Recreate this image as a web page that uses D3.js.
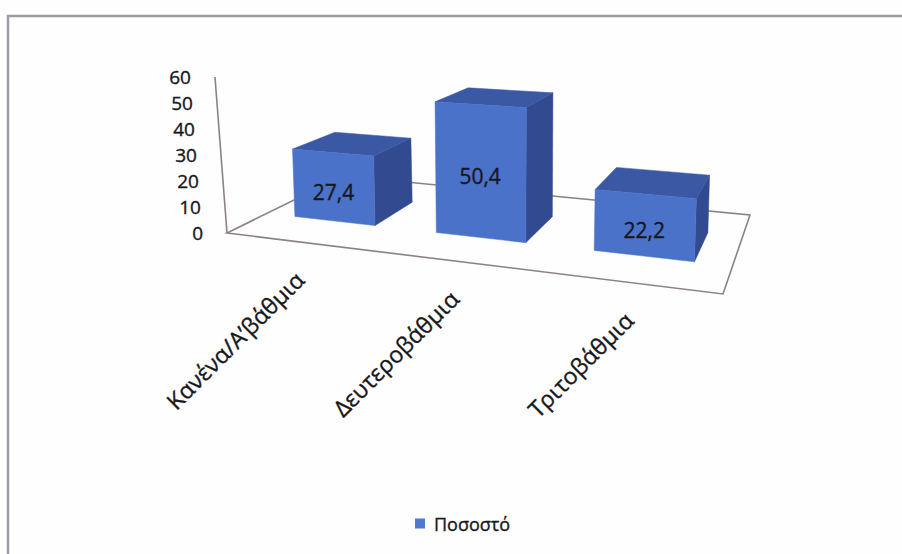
<!DOCTYPE html>
<html>
<head>
<meta charset="utf-8">
<script src="https://cdn.jsdelivr.net/npm/d3@7"></script>
<style>
  body { margin: 0; background: #fdfefd; }
  text { font-family: "Open Sans", "Noto Sans", sans-serif; fill: #17171c; stroke: #17171c; stroke-width: 0.35px; }
</style>
</head>
<body>
<svg id="chart"></svg>
<script>
// DATA
const categories = ['Κανένα/Α’βάθμια', 'Δευτεροβάθμια', 'Τριτοβάθμια'];
const values = [27.4, 50.4, 22.2];
const yTicks = [0, 10, 20, 30, 40, 50, 60];
const seriesName = 'Ποσοστό';

// GLOBALS AND CONSTANTS
const width = 902;
const height = 554;
// floor of the 3d plot, as seen on screen (front-left, front-right, back-right, back-left)
const floorQuad = [[227, 233], [723, 294], [750, 215], [343, 176]];
const barDepth = [0.3, 0.68];      // bar front / back, as a share of floor depth
const axisLean = -0.077;           // value axis leans left going up
const colors = { front: '#4a72c9', top: '#3a58a4', side: '#314a90', floor: '#8c8184', legend: '#4f78cf' };

const svg = d3.select('#chart')
  .attr('width', width)
  .attr('height', height)
  .style('display', 'block');

// SCALES
const xScale = d3.scaleBand()
  .domain(categories)
  .range([0, 1])
  .paddingInner(0.42)
  .paddingOuter(0.21);

const yScale = d3.scaleLinear()
  .domain([0, 60])
  .range([0, 156]);

const fmt = d3.formatLocale({ decimal: ',', thousands: '.', grouping: [3], currency: ['', ''] }).format('.1f');

// PERSPECTIVE: unit square (s along categories, w into depth) -> floor quad
function makeHomography(q) {
  const [[x0, y0], [x1, y1], [x2, y2], [x3, y3]] = q;
  const sx = x0 - x1 + x2 - x3, sy = y0 - y1 + y2 - y3;
  const dx1 = x1 - x2, dx2 = x3 - x2, dy1 = y1 - y2, dy2 = y3 - y2;
  const det = dx1 * dy2 - dx2 * dy1;
  const g = (sx * dy2 - dx2 * sy) / det;
  const h = (dx1 * sy - sx * dy1) / det;
  const a = x1 - x0 + g * x1, b = x3 - x0 + h * x3, c = x0;
  const d = y1 - y0 + g * y1, e = y3 - y0 + h * y3, f = y0;
  return (s, w) => {
    const den = g * s + h * w + 1;
    return [(a * s + b * w + c) / den, (d * s + e * w + f) / den, den];
  };
}
const floorAt = makeHomography(floorQuad);
const lean = s => -0.04 + 0.075 * s;

function point3(s, w, v) {
  const [x, y, den] = floorAt(s, w);
  const hpx = yScale(v) / den;
  return [x + lean(s) * hpx, y - hpx];
}

const line = d3.line();

// OUTER FRAME
svg.append('path')
  .attr('d', `M8,${height} V16 H${width}`)
  .attr('fill', 'none')
  .attr('stroke', '#9d9ca8')
  .attr('stroke-width', 2.5);

// FLOOR
const floorPts = [[0, 0], [1, 0], [1, 1], [0, 1]].map(([s, w]) => floorAt(s, w).slice(0, 2));
svg.append('path')
  .attr('d', line(floorPts) + 'Z')
  .attr('fill', 'none')
  .attr('stroke', colors.floor)
  .attr('stroke-width', 1.6);

// VALUE AXIS
const axisPt = v => {
  const [x0, y0] = floorAt(0, 0);
  return [x0 + axisLean * yScale(v), y0 - yScale(v)];
};
svg.append('path')
  .attr('d', line([axisPt(0), axisPt(60)]))
  .attr('stroke', colors.floor)
  .attr('stroke-width', 1.6);

svg.selectAll('text.ytick')
  .data(yTicks)
  .join('text')
  .attr('class', 'ytick')
  .attr('x', d => axisPt(d)[0] - 24)
  .attr('y', d => axisPt(d)[1])
  .attr('text-anchor', 'end')
  .attr('dominant-baseline', 'central')
  .style('font-size', '19px')
  .text(d => d);

// BARS
const bars = categories.map((c, i) => {
  const s0 = xScale(c), s1 = s0 + xScale.bandwidth();
  const [w0, w1] = barDepth;
  const v = values[i];
  return {
    name: c, value: v,
    side: [point3(s1, w0, 0), point3(s1, w1, 0), point3(s1, w1, v), point3(s1, w0, v)],
    top: [point3(s0, w0, v), point3(s1, w0, v), point3(s1, w1, v), point3(s0, w1, v)],
    front: [point3(s0, w0, 0), point3(s1, w0, 0), point3(s1, w0, v), point3(s0, w0, v)],
    label: point3((s0 + s1) / 2, w0, v / 2)
  };
});

const barG = svg.selectAll('g.bar')
  .data(bars)
  .join('g')
  .attr('class', 'bar');

['side', 'top', 'front'].forEach(face => {
  barG.append('path')
    .attr('d', d => line(d[face]) + 'Z')
    .attr('fill', colors[face])
    .attr('stroke', colors[face])
    .attr('stroke-width', 0.5);
});

barG.append('text')
  .attr('x', d => d.label[0])
  .attr('y', d => d.label[1] + 5)
  .attr('text-anchor', 'middle')
  .attr('dominant-baseline', 'central')
  .style('font-size', '21px')
  .text(d => fmt(d.value));

// CATEGORY LABELS
svg.selectAll('text.xlabel')
  .data(categories)
  .join('text')
  .attr('class', 'xlabel')
  .attr('text-anchor', 'end')
  .attr('transform', d => {
    const [x, y] = floorAt(xScale(d) + xScale.bandwidth() / 2, 0);
    return `translate(${x + 8},${y + 40}) rotate(-45)`;
  })
  .style('font-size', '23px')
  .text(d => d);

// LEGEND
const legend = svg.append('g').attr('transform', 'translate(415,524)');
legend.append('rect')
  .attr('x', 0).attr('y', -5.5)
  .attr('width', 10).attr('height', 10)
  .attr('fill', colors.legend);
legend.append('text')
  .attr('x', 19).attr('y', 0)
  .attr('dominant-baseline', 'central')
  .style('font-size', '18px')
  .text(seriesName);
</script>
</body>
</html>
